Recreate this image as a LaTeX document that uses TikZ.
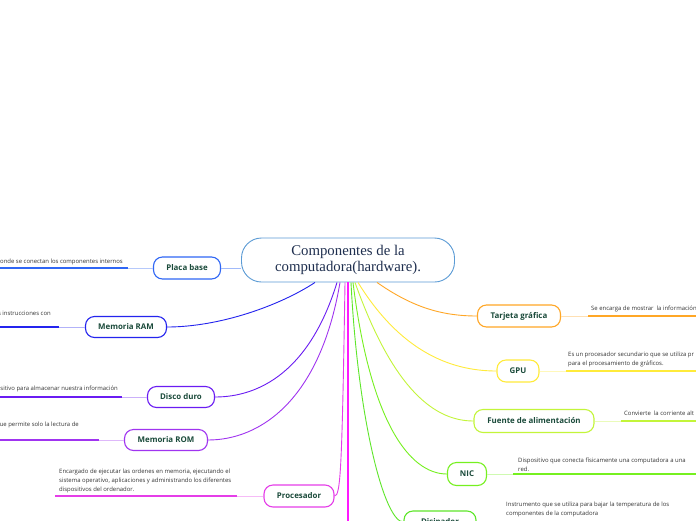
\documentclass[tikz,border=0pt]{standalone}
\usepackage{fontspec}
\setmainfont{Open Sans}
\newfontfamily\serifont{Liberation Serif}
\definecolor{cborder}{HTML}{5B9BD5}
\definecolor{ctext}{HTML}{1F2F4F}
\definecolor{nodetext}{HTML}{1A4A3A}
\definecolor{desctext}{HTML}{333333}
\definecolor{cplaca}{HTML}{2F66F5}
\definecolor{cram}{HTML}{2424EE}
\definecolor{cdisco}{HTML}{6A1CF2}
\definecolor{crom}{HTML}{A034F0}
\definecolor{cproc}{HTML}{E53EE8}
\definecolor{cmag}{HTML}{FF1AFF}
\definecolor{ctarj}{HTML}{FFA726}
\definecolor{cgpu}{HTML}{FFEB3B}
\definecolor{cfuente}{HTML}{C3F53A}
\definecolor{cnic}{HTML}{76F020}
\definecolor{cdisip}{HTML}{5EE62A}
\begin{document}
\begin{tikzpicture}[x=1pt,y=-1pt,
  topic/.style={draw=#1, line width=1.1pt, rounded corners=9pt, fill=white,
    text=nodetext, font=\fontsize{7.9}{9}\selectfont\bfseries,
    minimum height=22pt, inner sep=0pt},
  desc/.style={font=\fontsize{5.95}{9}\selectfont, text=desctext, align=left, inner sep=0pt},
  conn/.style={draw=#1, line width=0.9pt},
  lite/.style={draw=#1!35!white, line width=1pt},
  dark/.style={draw=#1, line width=1.6pt}]
\useasboundingbox (0,0) rectangle (696,520);
\fill[white] (0,0) rectangle (696,520);

% central node
\node[draw=cborder, line width=0.9pt, rounded corners=20pt, minimum width=213pt,
  minimum height=44pt, align=center, fill=white,
  font=\serifont\fontsize{14.8}{16.5}\selectfont, text=ctext] (c) at (348,260)
  {Componentes de la\\computadora(hardware).};

% topic nodes
\node[topic=cplaca, minimum width=67pt] (pb) at (187,268) {Placa base};
\node[topic=cram, minimum width=81pt, minimum height=21pt] (ram) at (126,327) {Memoria RAM};
\node[topic=cdisco, minimum width=67pt, minimum height=21pt] (dd) at (181,397) {Disco duro};
\node[topic=crom, minimum width=83pt, minimum height=21pt] (rom) at (166,440) {Memoria ROM};
\node[topic=cproc, minimum width=70pt] (proc) at (299,496) {Procesador};
\node[topic=ctarj, minimum width=83pt] (tg) at (519,316) {Tarjeta gráfica};
\node[topic=cgpu, minimum width=42pt] (gpu) at (518,371) {GPU};
\node[topic=cfuente, minimum width=120pt, minimum height=23pt] (fa) at (534,421) {Fuente de alimentación};
\node[topic=cnic, minimum width=39pt, minimum height=23pt] (nic) at (467,474) {NIC};
\node[topic=cdisip, minimum width=72pt] (dis) at (440,522) {Disipador};

% connectors from the central node
\draw[conn=cplaca!45!white] (c.west |- pb.east) -- (pb.east);
\draw[conn=cram] ([xshift=-33pt]c.south) .. controls +(-35,23) and +(53,0) .. (ram.east);
\draw[conn=cdisco] ([xshift=-11pt]c.south) .. controls +(-27,88) and +(45,0) .. (dd.east);
\draw[conn=crom] ([xshift=-8pt]c.south) .. controls +(-20,118) and +(52,0) .. (rom.east);
\draw[conn=cproc] ([xshift=-3pt]c.south) .. controls +(-3,188) and +(6,0) .. (proc.east);
\coordinate (vend) at (348,523);
\draw[conn=cmag, line width=1.2pt] (c.south) -- (vend);
\draw[conn=cdisip] ([xshift=3pt]c.south) .. controls +(7,138) and +(-19,0) .. (dis.west);
\draw[conn=cnic] ([xshift=5pt]c.south) .. controls +(17,138) and +(-38,0) .. (nic.west);
\draw[conn=cfuente] ([xshift=7pt]c.south) .. controls +(35,98) and +(-44,0) .. (fa.west);
\draw[conn=cgpu] ([xshift=10pt]c.south) .. controls +(42,68) and +(-47,0) .. (gpu.west);
\draw[conn=ctarj] ([xshift=29pt]c.south) .. controls +(33,23) and +(-38,0) .. (tg.west);

% description lines (left side)
\draw[lite=cplaca] (pb.west) -- ++(-25,0) coordinate (pb1);
\coordinate (pb2) at (0,268);
\draw[dark=cplaca] (pb1) -- (pb2);
\draw[lite=cram] (ram.west) -- ++(-26,0) coordinate (ram1);
\coordinate (ram2) at (0,327);
\draw[dark=cram] (ram1) -- (ram2);
\draw[lite=cdisco] (dd.west) -- ++(-25,0) coordinate (dd1);
\coordinate (dd2) at (0,397);
\draw[dark=cdisco] (dd1) -- (dd2);
\draw[lite=crom] (rom.west) -- ++(-25,0) coordinate (rom1);
\coordinate (rom2) at (0,440);
\draw[dark=crom] (rom1) -- (rom2);
\draw[lite=cproc] (proc.west) -- ++(-26,0) coordinate (proc1);
\coordinate (proc2) at (55,496);
\draw[dark=cproc] (proc1) -- (proc2);

% description lines (right side)
\draw[lite=ctarj] (tg.east) -- ++(27,0) coordinate (tg1);
\coordinate (tg2) at (696,316);
\draw[dark=ctarj] (tg1) -- (tg2);
\draw[lite=cgpu] (gpu.east) -- ++(26,0) coordinate (gpu1);
\coordinate (gpu2) at (696,371);
\draw[dark=cgpu] (gpu1) -- (gpu2);
\draw[lite=cfuente] (fa.east) -- ++(26,0) coordinate (fa1);
\coordinate (fa2) at (696,421);
\draw[dark=cfuente] (fa1) -- (fa2);
\draw[lite=cnic] (nic.east) -- ++(26,0) coordinate (nic1);
\coordinate (nic2) at (696,474);
\draw[dark=cnic] (nic1) -- (nic2);
\draw[lite=cdisip] (dis.east) -- ++(26,0) coordinate (dis1);
\coordinate (dis2) at (696,522);
\draw[dark=cdisip] (dis1) -- (dis2);

% description texts
\node[desc, anchor=south east] (tpb) at (123,265.5) {donde se conectan los componentes internos};
\node[desc, anchor=south east] (tram) at (51,315.5) {s instrucciones con};
\node[desc, anchor=south east] (tdd) at (118,392.5) {sitivo para almacenar nuestra información};
\node[desc, anchor=south east] (trom) at (79,428.5) {que permite solo la lectura de};
\node[desc, anchor=south west] (tproc) at (59,493.5) {Encargado de ejecutar las ordenes en memoria, ejecutando el\\sistema operativo, aplicaciones y administrando los diferentes\\dispositivos del ordenador.};
\node[desc, anchor=south west] (ttg) at (591,312.5) {Se encarga de mostrar\ \ la información};
\node[desc, anchor=south west] (tgpu) at (568,367.5) {Es un procesador secundario que se utiliza pr\\para el procesamiento de gráficos.};
\node[desc, anchor=south west] (tfa) at (624,415.5) {Convierte\ \ la corriente alt};
\node[desc, anchor=south west] (tnic) at (518,471.5) {Dispositivo que conecta físicamente una computadora a una\\red.};
\node[desc, anchor=south west] (tdis) at (506,517.5) {Instrumento que se utiliza para bajar la temperatura de los\\componentes de la computadora};
\end{tikzpicture}
\end{document}
